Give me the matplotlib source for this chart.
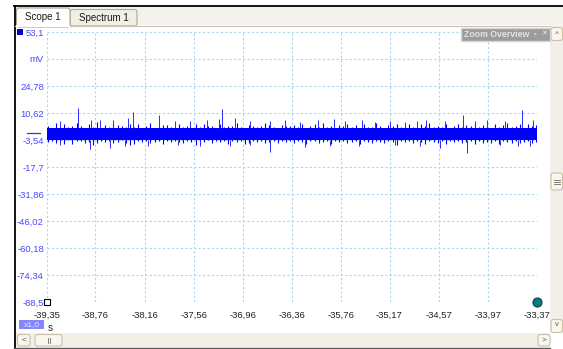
import matplotlib
matplotlib.use("Agg")
import matplotlib.pyplot as plt
import numpy as np
from matplotlib.patches import Rectangle, FancyBboxPatch

plt.rcParams["font.family"] = ["Liberation Sans", "DejaVu Sans"]

# axis ticks (seconds / mV)
x_ticks = [-39.35, -38.76, -38.16, -37.56, -36.96, -36.36, -35.76, -35.17, -34.57, -33.97, -33.37]
y_ticks = [53.1, 38.94, 24.78, 10.62, -3.54, -17.7, -31.86, -46.02, -60.18, -74.34, -88.5]
y_labels = ["53,1", "mV", "24,78", "10,62", "-3,54", "-17,7", "-31,86", "-46,02", "-60,18", "-74,34", "-88,5"]
x_labels = ["-39,35", "-38,76", "-38,16", "-37,56", "-36,96", "-36,36", "-35,76", "-35,17", "-34,57", "-33,97", "-33,37"]

band_low = -3.6
band_high = 2.6
env_upper = [3.8, 2.9, 5.4, 3.1, 4.9, 3.3, 4.0, 5.2, 3.6, 2.8, 4.6, 3.2, 5.9, 3.0, 4.1,
             3.4, 4.9, 4.5, 3.7, 3.1, 5.0, 3.3, 4.8, 3.0, 3.6, 5.3, 2.9, 3.8, 4.2, 4.4,
             3.5, 3.0, 5.1, 3.3, 3.9, 2.8, 4.6, 3.4, 5.1, 4.0, 3.6, 2.9, 4.7, 3.3, 3.8,
             4.0, 5.2, 3.5, 2.9, 4.4, 3.7, 3.1, 4.0, 5.2, 4.5, 3.4, 3.0, 4.1, 3.6, 3.9,
             4.4, 3.2, 5.0, 3.0, 3.7, 4.6, 3.1, 5.6, 3.4, 3.9, 2.9, 4.3, 3.6, 5.0, 3.2,
             4.1, 3.0, 4.8, 3.5, 3.3, 5.4, 3.8, 3.0, 4.5, 3.6, 4.9, 3.1, 3.9, 5.1, 3.4,
             3.0, 4.6, 3.7, 5.3, 3.2, 4.0, 3.5, 4.7, 3.0, 3.9, 5.0, 3.3, 4.2, 3.6, 5.5,
             3.1, 4.4, 3.8, 3.0, 4.9, 3.5, 4.1, 5.2, 3.3, 3.8, 4.6, 3.0, 5.0, 3.7, 4.3]
env_lower = [-4.6, -3.9, -5.2, -4.1, -5.8, -3.8, -5.5, -4.3, -4.0, -5.0, -4.4, -6.0, -5.3, -4.2, -4.7,
             -4.0, -5.1, -4.5, -3.8, -4.9, -6.1, -5.4, -4.1, -4.6, -3.9, -5.0, -4.4, -4.0, -5.7, -4.3,
             -4.8, -3.9, -4.5, -5.3, -4.1, -4.7, -5.9, -5.0, -4.4, -3.8, -5.1, -4.2, -4.6, -4.0, -5.4,
             -4.3, -4.8, -3.9, -5.6, -5.0, -4.2, -4.7, -4.0, -5.2, -4.4, -3.9, -4.9, -4.3, -4.6, -4.1,
             -5.3, -4.0, -4.7, -5.8, -4.2, -3.9, -5.1, -4.5, -4.1, -5.5, -4.3, -4.8, -3.9, -5.2, -4.4,
             -4.0, -5.6, -4.2, -4.7, -5.0, -3.9, -4.6, -5.3, -4.1, -4.4, -5.9, -4.0, -4.8, -4.3, -5.1,
             -4.2, -4.6, -5.4, -3.9, -4.5, -5.0, -4.1, -5.7, -4.3, -4.8, -4.0, -5.2, -4.6, -3.9, -5.5,
             -4.2, -4.9, -4.4, -5.1, -4.0, -5.6, -4.3, -4.7, -5.0, -4.1, -5.3, -4.5, -4.0, -5.2, -4.4]

# spikes above and below the band
up_t = [-39.19, -38.97, -38.81, -38.70, -38.54, -38.36, -38.30, -37.98, -37.79, -37.60,
        -37.40, -37.25, -37.21, -37.06, -36.87, -36.63, -36.45, -36.26, -36.04, -35.85,
        -35.71, -35.51, -35.35, -35.16, -34.98, -34.83, -34.72, -34.49, -34.27, -34.13,
        -33.98, -33.76, -33.55, -33.42]
up_v = [6.2, 13.2, 6.9, 7.2, 7.0, 8.0, 11.1, 9.6, 6.6, 6.4,
        7.0, 7.5, 12.7, 8.0, 6.4, 6.4, 6.8, 6.1, 6.9, 7.5,
        6.5, 6.7, 6.1, 6.3, 6.0, 6.3, 7.0, 6.6, 9.6, 6.5,
        6.9, 6.2, 12.2, 7.0]
down_t = [-39.19, -38.83, -38.58, -38.40, -38.12, -37.75, -37.48, -37.12, -36.87, -36.63,
          -36.20, -35.90, -35.54, -35.10, -34.80, -34.55, -34.22, -33.82, -33.60, -33.46]
down_v = [-6.4, -8.3, -7.7, -6.5, -6.9, -6.3, -6.8, -6.6, -6.3, -9.8,
          -7.2, -6.6, -6.9, -6.4, -6.5, -7.7, -10.4, -6.4, -6.9, -6.8]

W, H = 563, 349
fig = plt.figure(figsize=(W / 100, H / 100), dpi=100)

# window chrome, pixel coords with origin top-left
bg = fig.add_axes([0, 0, 1, 1], zorder=0)
bg.set_xlim(0, W)
bg.set_ylim(H, 0)
bg.axis("off")


def rect(ax, x0, y0, x1, y1, fc, ec="none", lw=0.8, rounded=False):
    if rounded:
        p = FancyBboxPatch((x0, y0), x1 - x0, y1 - y0, boxstyle="round,pad=0,rounding_size=2.5",
                           fc=fc, ec=ec, lw=lw)
    else:
        p = Rectangle((x0, y0), x1 - x0, y1 - y0, fc=fc, ec=ec, lw=lw)
    ax.add_patch(p)


rect(bg, 14, 6, W, 26, "#f4f2ec")
rect(bg, 15, 25, 550, 333, "white")
bg.plot([14, W], [5.5, 5.5], color="black", lw=1.3)
bg.plot([14.5, 14.5], [5.5, H], color="black", lw=1.3)
bg.plot([15, 550], [25.5, 25.5], color="#c8c3b4", lw=0.8)

# tabs
rect(bg, 70, 9.5, 137, 26, "#f1eee3", "#b0aa98", rounded=True)
rect(bg, 16.5, 8, 70, 27, "white", "#a8a496", rounded=True)
bg.plot([17.2, 69.3], [26.2, 26.2], color="white", lw=1.5)
bg.text(43, 17.5, "Scope 1", ha="center", va="center", fontsize=7, color="#1a1a1a")
bg.text(103.5, 18, "Spectrum 1", ha="center", va="center", fontsize=7, color="#1a1a1a")

# right scrollbar
rect(bg, 550, 26, W, 333, "#f1efe7")
rect(bg, 551, 27.5, 562.5, 40.5, "#f8f6ef", "#c9c0a6", rounded=True)
bg.text(556.8, 34.5, "^", ha="center", va="center", fontsize=6, color="#555555")
rect(bg, 551, 173, 562.5, 190, "#f8f6ef", "#c9c0a6", rounded=True)
for yy in (179.5, 181.5, 183.5):
    bg.plot([554, 559.5], [yy, yy], color="#6b6b6b", lw=0.6)
rect(bg, 551, 319.5, 562.5, 332.5, "#f8f6ef", "#c9c0a6", rounded=True)
bg.text(556.8, 325, "v", ha="center", va="center", fontsize=5.5, color="#555555")

# bottom scrollbar
rect(bg, 15, 333, 550, 347, "#f1efe7")
rect(bg, 17.5, 334.5, 30, 346, "#f8f6ef", "#c9c0a6", rounded=True)
bg.text(23.8, 340.5, "<", ha="center", va="center", fontsize=6, color="#555555")
rect(bg, 35, 334.5, 62, 346, "#f8f6ef", "#c9c0a6", rounded=True)
bg.plot([47.5, 47.5], [338, 343], color="#6b6b6b", lw=0.6)
bg.plot([49.5, 49.5], [338, 343], color="#6b6b6b", lw=0.6)
rect(bg, 538, 334.5, 550, 346, "#f8f6ef", "#c9c0a6", rounded=True)
bg.text(544, 340.5, ">", ha="center", va="center", fontsize=6, color="#555555")
bg.plot([14, 550], [347.8, 347.8], color="#555555", lw=1.0)

# channel badges
rect(bg, 17, 29, 23, 35, "#0000d0")
bg.plot([26.5, 40], [132.5, 132.5], color="#444466", lw=0.9)
rect(bg, 19, 320, 44, 328.5, "#8585ff")
bg.text(31.5, 324.5, "x1,0", ha="center", va="center", fontsize=6, color="#e8e8ff")
bg.text(50.5, 328, "s", ha="center", va="center", fontsize=7, color="#222222")

# scope trace
ax = fig.add_axes([47 / W, (H - 302) / H, 490 / W, 270 / H], zorder=1)
ax.patch.set_alpha(0)
ax.set_xlim(x_ticks[0], x_ticks[-1])
ax.set_ylim(y_ticks[-1], y_ticks[0])
for s in ax.spines.values():
    s.set_visible(False)
ax.set_xticks(x_ticks)
ax.set_xticklabels(x_labels)
ax.set_yticks(y_ticks)
ax.set_yticklabels(y_labels)
ax.tick_params(length=0, labelsize=6.8)
ax.tick_params(axis="x", pad=6, labelcolor="#222222")
ax.tick_params(axis="y", pad=2.2, labelcolor="#4848ff")
ax.grid(True, color="#a6d8ea", ls=(0, (2, 2)), lw=0.8)
ax.set_axisbelow(True)

t_env = np.linspace(x_ticks[0] + 0.01, x_ticks[-1] - 0.01, len(env_upper))
ax.fill_between([x_ticks[0] + 0.005, x_ticks[-1] - 0.005], band_low, band_high, color="#0000ff", lw=0)
ax.vlines(t_env, env_lower, env_upper, color="#0000ff", lw=0.8)
ax.vlines(up_t, band_high, up_v, color="#2a2aff", lw=0.7)
ax.vlines(down_t, down_v, band_low, color="#2a2aff", lw=0.7)

ax.plot([x_ticks[0]], [y_ticks[-1]], marker="s", ms=3.8, mfc="white", mec="black", mew=0.8, clip_on=False)
ax.plot([x_ticks[-1]], [y_ticks[-1]], marker="o", ms=6.5, mfc="#008080", mec="#1a3a3a", mew=0.8, clip_on=False)

# floating "Zoom Overview" box
fg = fig.add_axes([0, 0, 1, 1], zorder=2)
fg.set_xlim(0, W)
fg.set_ylim(H, 0)
fg.axis("off")
rect(fg, 461, 27.5, 549.5, 40.5, "#9c9c9c", "#d4d4d4", lw=1.0)
fg.text(464, 34.3, "Zoom Overview", ha="left", va="center", fontsize=6.3, fontweight="bold", color="#e4e4e4")
fg.text(535, 34, "\u25ab", ha="center", va="center", fontsize=5, color="#f0f0f0")
fg.text(544, 34, "\u2715", ha="center", va="center", fontsize=5, color="#f0f0f0", fontweight="bold")

fig.savefig("out.png", dpi=100)
